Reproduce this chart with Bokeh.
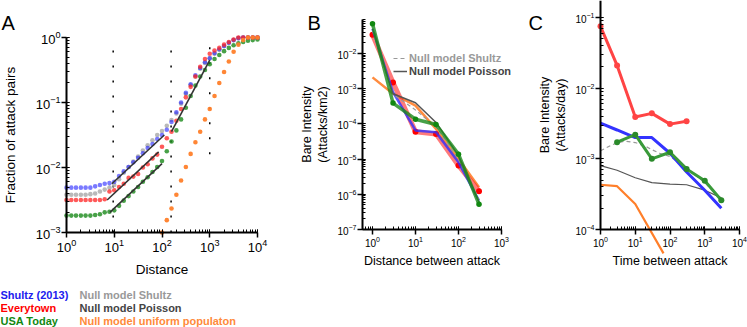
from bokeh.plotting import figure
from bokeh.layouts import row
from bokeh.models import Legend, LegendItem, Range1d, LinearScale, ColumnDataSource
from bokeh.core.properties import value
from bokeh.embed import file_html
from bokeh.resources import INLINE

FONT = "Liberation Sans"
H = 327

# ---------------- Panel A: cumulative fraction of attack pairs ----------------
distance = [1, 1.26, 1.58, 2.0, 2.51, 3.16, 3.98, 5.01, 6.31, 7.94,
            10, 12.6, 15.8, 20.0, 25.1, 31.6, 39.8, 50.1, 63.1, 79.4,
            100, 126, 158, 200, 251, 316, 398, 501, 631, 794,
            1000, 1259, 1585, 1995, 2512, 3162, 3981, 5012, 6310, 7943, 10000]
frac_shultz = [0.0049, 0.0049, 0.0049, 0.0049, 0.0049, 0.0049, 0.00513, 0.00537, 0.00562, 0.00575,
               0.00603, 0.00741, 0.00871, 0.0102, 0.012, 0.0141, 0.0166, 0.02, 0.0229, 0.0275,
               0.0316, 0.038, 0.0501, 0.0708, 0.1, 0.141, 0.191, 0.263, 0.339, 0.417,
               0.479, 0.575, 0.661, 0.741, 0.832, 0.912, 0.977, 1.0, 1.0, 1.0, 1.0]
frac_null_shultz = [0.0038, 0.0038, 0.0038, 0.0038, 0.0038, 0.00389, 0.00398, 0.00427, 0.00457, 0.0049,
                    0.00537, 0.00661, 0.00832, 0.0102, 0.0123, 0.0148, 0.0182, 0.0219, 0.0263, 0.0316,
                    0.0363, 0.0437, 0.0537, 0.0676, 0.0955, 0.135, 0.186, 0.251, 0.331, 0.407,
                    0.479, 0.562, 0.646, 0.741, 0.832, 0.912, 0.977, 1.0, 1.0, 1.0, 1.0]
frac_everytown = [0.00316, 0.00316, 0.00316, 0.00316, 0.00316, 0.00316, 0.00316, 0.00316, 0.00324, 0.00427,
                  0.00447, 0.00501, 0.00562, 0.00692, 0.00724, 0.00794, 0.01, 0.0112, 0.0138, 0.0158,
                  0.0209, 0.0282, 0.0355, 0.0525, 0.0794, 0.12, 0.174, 0.251, 0.355, 0.468,
                  0.562, 0.631, 0.692, 0.776, 0.851, 0.933, 1.0, 1.0, 1.0, 1.0, 1.0]
frac_usatoday = [0.00182, 0.00182, 0.00182, 0.00182, 0.00182, 0.00182, 0.00186, 0.00191, 0.00204, 0.00209,
                 0.00219, 0.00257, 0.00309, 0.00363, 0.00427, 0.00501, 0.00603, 0.00708, 0.00851, 0.0102,
                 0.0126, 0.0178, 0.0251, 0.0372, 0.055, 0.0832, 0.126, 0.182, 0.251, 0.316,
                 0.389, 0.468, 0.537, 0.617, 0.692, 0.759, 0.813, 0.851, 0.891, 0.912, 0.933]
distance_uniform = [100, 126, 158, 200, 251, 316, 398, 501, 631, 794,
                    1000, 1259, 1585, 1995, 2512, 3162, 3981, 5012, 6310, 7943, 10000]
frac_uniform = [0.001, 0.00155, 0.00234, 0.0038, 0.0063, 0.0102, 0.0162, 0.0245, 0.0355, 0.055,
                0.0794, 0.126, 0.2, 0.295, 0.427, 0.603, 0.776, 0.912, 1.0, 1.0, 1.0]
# Poisson fit segments
fit_x0 = [8.9, 7.1, 8.1, 158]
fit_y0 = [0.00562, 0.00316, 0.00204, 0.0355]
fit_x1 = [112, 85, 100, 1000]
fit_y1 = [0.0316, 0.0174, 0.0115, 0.447]
# dotted guide lines
guide_x = [9.5, 155, 1000]
guide_lo = [0.001, 0.001, 0.016]
guide_hi = [1, 1, 1]

# ---------------- Panel B: intensity vs distance ----------------
dist_b = [1, 3, 10, 30, 100, 300]
b_shultz = [0.05, 8e-4, 6.5e-5, 5.8e-5, 8.1e-6, 6.6e-7]
b_everytown = [0.034, 1.5e-3, 6e-5, 5.2e-5, 6.6e-6, 1.23e-6]
b_usatoday = [0.07, 3.9e-4, 1.36e-4, 9.6e-5, 1.38e-5, 5.2e-7]
b_uniform = [2.1e-3, 7.2e-4, 3.3e-4, 7.2e-5, 1.0e-5, 1.6e-6]
b_poisson = [0.05, 7.2e-4, 4.0e-4, 1.1e-4, 1.26e-5, 6e-7]
b_null_shultz = [0.045, 7e-4, 2.5e-4, 8e-5, 1e-5, 7e-7]

# ---------------- Panel C: intensity vs time ----------------
time_everytown = [1, 3, 10, 30, 100, 300]
c_everytown = [0.075, 0.021, 0.0039, 0.0044, 0.0031, 0.0034]
time_shultz = [1, 3, 10, 30, 100, 300, 1000, 3000]
c_shultz = [3.2e-3, 2.56e-3, 2.0e-3, 2.0e-3, 1.2e-3, 6.5e-4, 3.6e-4, 2.0e-4]
time_usatoday = [3, 10, 30, 100, 300, 1000, 3000]
c_usatoday = [1.72e-3, 2.2e-3, 1.0e-3, 1.24e-3, 7.2e-4, 4.9e-4, 2.6e-4]
time_null_shultz = [1, 2, 3, 5, 10, 20, 30, 50, 100, 300, 1000, 3000]
c_null_shultz = [1.3e-3, 1.55e-3, 1.68e-3, 1.78e-3, 1.7e-3, 1.5e-3, 1.35e-3, 1.2e-3, 1.08e-3, 7.4e-4, 4.6e-4, 2.7e-4]
time_poisson = [1, 3, 10, 30, 100, 300, 1000, 3000]
c_poisson = [8.0e-4, 6.9e-4, 5.4e-4, 4.6e-4, 4.4e-4, 4.3e-4, 3.6e-4, 2.8e-4]
time_uniform = [1, 3, 10, 65]
c_uniform = [4.3e-4, 4.1e-4, 2.3e-4, 4.6e-5]

# ---------------- legend texts (bottom of panel A) ----------------
legend_labels = ["Shultz (2013)", "Everytown", "USA Today",
                 "Null model Shultz", "Null model Poisson", "Null model uniform populaton"]
legend_colors = ["#2020ee", "#ff0000", "#118811", "#999999", "#444444", "#ff8a3a"]

BLUE = "#2222ff"
RED = "#ff2222"
GREEN = "#1a8a1a"
GRAY = "#a8a8a8"
ORANGE = "#ff7f2a"


def log_span(size, anchor_px, anchor_log, ppd, downward=False):
    """Range whose pixel mapping puts 10**anchor_log at pixel anchor_px."""
    if downward:
        top = anchor_log + anchor_px / ppd
        bottom = anchor_log - (size - anchor_px) / ppd
        return (10 ** bottom, 10 ** top)
    lo = anchor_log - anchor_px / ppd
    hi = anchor_log + (size - anchor_px) / ppd
    return (10 ** lo, 10 ** hi)


def make_fig(width, xspan, yspan):
    p = figure(x_axis_type="log", y_axis_type="log", width=width, height=H,
               x_range=Range1d(*xspan), y_range=Range1d(*yspan), min_border=0,
               output_backend="svg", toolbar_location=None)
    p.extra_x_ranges = {"px": Range1d(0, width)}
    p.extra_y_ranges = {"py": Range1d(H, 0)}
    p.extra_x_scales = {"px": LinearScale()}
    p.extra_y_scales = {"py": LinearScale()}
    p.outline_line_color = None
    p.grid.visible = False
    p.background_fill_color = "white"
    p.border_fill_color = "white"
    return p


def style(p, tick_size, label_size, xloc, yloc, xbounds, ybounds):
    for ax in p.axis:
        ax.axis_line_width = 2
        ax.axis_line_color = "black"
        ax.major_tick_line_width = 1.5
        ax.major_tick_line_color = "black"
        ax.minor_tick_line_color = "black"
        ax.major_tick_out = 5
        ax.major_tick_in = 0
        ax.minor_tick_in = 3
        ax.minor_tick_out = 0
        ax.major_label_text_font = FONT
        ax.major_label_text_font_size = tick_size
        ax.major_label_text_color = "black"
        ax.axis_label_text_font = FONT
        ax.axis_label_text_font_size = label_size
        ax.axis_label_text_font_style = "normal"
        ax.axis_label_text_color = "black"
        ax.major_label_standoff = 1
        ax.axis_label_standoff = 4
    p.xaxis.fixed_location = xloc
    p.yaxis.fixed_location = yloc
    p.xaxis.bounds = xbounds
    p.yaxis.bounds = ybounds


def letter(p, text, x, y):
    p.text(x=[x], y=[y], text=[text], x_range_name="px", y_range_name="py",
           text_font=value(FONT), text_font_size="20px", text_baseline="middle",
           text_align="left", text_color="black")


# ---------------- Figure A ----------------
WA = 296
pA = make_fig(WA, log_span(WA, 66, 0, 47.75), log_span(H, 37, 0, 65, downward=True))
pA.segment(x0=guide_x, y0=guide_lo, x1=guide_x, y1=guide_hi, line_color="black",
           line_width=1.5, line_dash="2 13")
dot = dict(size=4.6, line_color=None)
pA.scatter(distance, frac_null_shultz, fill_color=GRAY, fill_alpha=0.8, **dot)
pA.scatter(distance, frac_usatoday, fill_color=GREEN, fill_alpha=0.8, **dot)
pA.scatter(distance, frac_shultz, fill_color=BLUE, fill_alpha=0.6, **dot)
pA.scatter(distance, frac_everytown, fill_color=RED, fill_alpha=0.75, **dot)
pA.scatter(distance_uniform, frac_uniform, fill_color=ORANGE, fill_alpha=0.95, **dot)
pA.segment(x0=fit_x0, y0=fit_y0, x1=fit_x1, y1=fit_y1, line_color="#333333", line_width=1.6)
pA.xaxis.axis_label = "Distance"
pA.yaxis.axis_label = "Fraction of attack pairs"
style(pA, "13px", "13.5px", 1e-3, 1, (1, 1e4), (1e-3, 1))
pA.yaxis.axis_label_standoff = 15
pA.xaxis.axis_label_standoff = 7
letter(pA, "A", 1, 22)
leg_src = ColumnDataSource(dict(x=[0, 0, 0, 79, 79, 79], y=[294, 307, 320, 294, 307, 320],
                                text=legend_labels, color=legend_colors))
pA.text(x="x", y="y", text="text", text_color="color", source=leg_src,
        x_range_name="px", y_range_name="py", text_font=value(FONT),
        text_font_size="11px", text_font_style="bold", text_baseline="middle")

# ---------------- Figure B ----------------
WB = 224
pB = make_fig(WB, log_span(WB, 76, 0, 43), log_span(H, 53, -2, 35.2, downward=True))
xb_left = 10 ** (-10 / 43)
yb_top = 10 ** (-2 + 34 / 35.2)
pB.line(dist_b, b_uniform, line_color=ORANGE, line_width=2.5, line_alpha=0.9)
pB.line(dist_b, b_everytown, line_color=RED, line_width=5, line_alpha=0.6)
pB.scatter(dist_b, b_everytown, fill_color="#ff0000", line_color=None, size=6)
pB.line(dist_b, b_shultz, line_color="#3030ff", line_width=2.5, line_alpha=0.8)
rB_null = pB.line(dist_b, b_null_shultz, line_color="#999999", line_width=1.2, line_dash="4 3")
rB_pois = pB.line(dist_b, b_poisson, line_color="#555555", line_width=1.5)
pB.line(dist_b, b_usatoday, line_color=GREEN, line_width=3.5, line_alpha=0.8)
pB.scatter(dist_b, b_usatoday, fill_color="#118811", line_color=None, size=5.5)
pB.xaxis.axis_label = "Distance between attack"
pB.yaxis.axis_label = "Bare Intensity\n(Attacks/km2)"
style(pB, "10px", "12.5px", 1e-7, xb_left, (xb_left, 1e3), (1e-7, yb_top))
letter(pB, "B", 11, 22)
for lbl, rend, col, ly in [("Null model Shultz", rB_null, "#999999", 263.5),
                           ("Null model Poisson", rB_pois, "#444444", 250.5)]:
    lg = Legend(items=[LegendItem(label=lbl, renderers=[rend])], location=(97, ly),
                border_line_color=None, background_fill_alpha=0, padding=0, margin=0,
                glyph_width=14, glyph_height=12, label_standoff=2, label_height=12,
                label_text_font=FONT, label_text_font_size="11px",
                label_text_font_style="bold", label_text_color=col, spacing=0)
    pB.add_layout(lg)

# ---------------- Figure C ----------------
WC = 227
pC = make_fig(WC, log_span(WC, 80, 0, 34.75), log_span(H, 17, -1, 70.67, downward=True))
yc_top = 10 ** (-1 + 17 / 70.67)
pC.line(time_uniform, c_uniform, line_color=ORANGE, line_width=2.2)
pC.line(time_poisson, c_poisson, line_color="#555555", line_width=1.2)
pC.line(time_null_shultz, c_null_shultz, line_color="#999999", line_width=1.2, line_dash="4 3")
pC.line(time_everytown, c_everytown, line_color="#ff4444", line_width=3)
pC.scatter(time_everytown, c_everytown, fill_color="#ff4444", line_color=None, size=6)
pC.line(time_shultz, c_shultz, line_color="#3333ff", line_width=3)
pC.line(time_usatoday, c_usatoday, line_color="#3a9a3a", line_width=3)
pC.scatter(time_usatoday, c_usatoday, fill_color="#2a8a2a", line_color=None, size=6)
pC.xaxis.axis_label = "Time between attack"
pC.yaxis.axis_label = "Bare Intensity\n(Attacks/day)"
style(pC, "10px", "12.5px", 1e-4, 1, (1, 1e4), (1e-4, yc_top))
letter(pC, "C", 8, 22)

layout = row(pA, pB, pC)
open("out.html", "w").write(file_html(layout, INLINE))
